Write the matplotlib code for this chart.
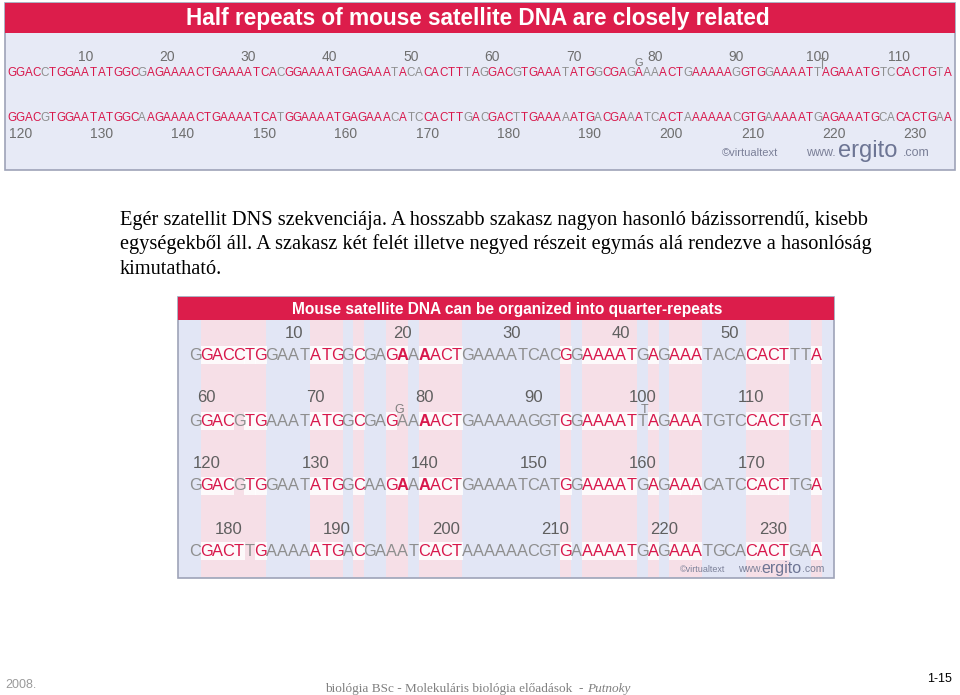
import matplotlib
matplotlib.use("Agg")
import matplotlib.pyplot as plt
from matplotlib.patches import Rectangle
from matplotlib import font_manager as fm

# ---------------- data ----------------
quarter_seqs = [
    "GGACCTGGAATATGGCGAGAAAACTGAAAATCACGGAAAATGAGAAATACACACTTTA",
    "GGACGTGAAATATGGCGAGAAAACTGAAAAAGGTGGAAAATTAGAAATGTCCACTGTA",
    "GGACGTGGAATATGGCAAGAAAACTGAAAATCATGGAAAATGAGAAACATCCACTTGA",
    "CGACTTGAAAAATGACGAAATCACTAAAAAACGTGAAAAATGAGAAATGCACACTGAA",
]
# r = red, R = bold red, g = gray (lower figure colouring)
quarter_masks = [
    "grrrrrrggggrrrgrggrRgRrrrgggggggggrgrrrrrgrgrrrggggrrrrggr",
    "grrrgrrggggrrrgrggrggRrrrgggggggggrgrrrrrgrgrrrggggrrrrggr",
    "grrrgrrggggrrrgrggrRgRrrrgggggggggrgrrrrrgrgrrrggggrrrrggr",
    "grrrrgrggggrrrgrgggggrrrrgggggggggrgrrrrrgrgrrrggggrrrrggr",
]
quarter_starts = [1, 59, 119, 177]
quarter_labels = [
    [10, 20, 30, 40, 50],
    [60, 70, 80, 90, 100, 110],
    [120, 130, 140, 150, 160, 170],
    [180, 190, 200, 210, 220, 230],
]
half_labels = [
    [10, 20, 30, 40, 50, 60, 70, 80, 90, 100, 110],
    [120, 130, 140, 150, 160, 170, 180, 190, 200, 210, 220, 230],
]
half_starts = [1, 119]
# substitution marks: (quarter row, character index, letter)
marks = [(1, 19, "G"), (1, 41.5, "T")]

title_top = "Half repeats of mouse satellite DNA are closely related"
title_low = "Mouse satellite DNA can be organized into quarter-repeats"
para_lines = [
    "Egér szatellit DNS szekvenciája. A hosszabb szakasz nagyon hasonló bázissorrendű, kisebb",
    "egységekből áll. A szakasz két felét illetve negyed részeit egymás alá rendezve a hasonlóság",
    "kimutatható.",
]
footer_left = "2008."
footer_mid = "biológia BSc - Molekuláris biológia előadások  - "
footer_mid_it = "Putnoky"
footer_right = "1-15"

# ---------------- style ----------------
RED = "#d8174b"
GRAY = "#8e8e8e"
BG = "#e7eaf6"
PINK = "#f6dfe7"
BLUE = "#e2e6f5"
HEAD = "#dc1d4b"
EDGE = "#9ea3b8"
SERIF = ["Liberation Serif", "DejaVu Serif"]

plt.rcParams["font.family"] = ["Liberation Sans", "DejaVu Sans"]


def has_font(name):
    try:
        fm.findfont(fm.FontProperties(family=name), fallback_to_default=False)
        return True
    except Exception:
        return False


NARROW = "Liberation Sans Narrow" if has_font("Liberation Sans Narrow") else None

fig = plt.figure(figsize=(9.6, 6.95), dpi=100)
ax = fig.add_axes([0, 0, 1, 1])
ax.set_xlim(0, 960)
ax.set_ylim(695, 0)
ax.axis("off")

# ================= top figure =================
ax.add_patch(Rectangle((5, 3), 950, 167, facecolor=BG, edgecolor=EDGE, lw=1.2, zorder=0))
ax.add_patch(Rectangle((5, 3), 950, 30, facecolor=HEAD, edgecolor="none", zorder=1))
ax.text(478, 19, title_top, color="white", fontsize=16.3, fontweight="bold",
        ha="center", va="center", zorder=2)

halves = [quarter_seqs[0] + quarter_seqs[1], quarter_seqs[2] + quarter_seqs[3]]
partner = [quarter_seqs[2] + quarter_seqs[3], quarter_seqs[0] + quarter_seqs[1]]
top_x0, top_x1 = 8, 952
seq_y_top = [73, 118]
lab_y_top = [57, 134]
if NARROW:
    top_font = dict(family=NARROW, fontsize=10)
else:
    top_font = dict(fontsize=8.4)
for h, seq in enumerate(halves):
    pitch = (top_x1 - top_x0) / len(seq)
    for i, ch in enumerate(seq):
        col = RED if ch == partner[h][i] else GRAY
        ax.text(top_x0 + (i + 0.5) * pitch, seq_y_top[h], ch, color=col,
                ha="center", va="center", zorder=3, **top_font)
    for n in half_labels[h]:
        idx = n - half_starts[h]
        ax.text(top_x0 + (idx + 0.5) * pitch, lab_y_top[h], str(n), color="#6e6e6e",
                fontsize=10, ha="center", va="center", zorder=3)
# marks in top figure: a small G above and a thin insertion tick
pitch0 = (top_x1 - top_x0) / len(halves[0])
for row, idx, letter in marks:
    pos = idx + len(quarter_seqs[0])
    xm = top_x0 + (pos + 0.5) * pitch0
    if letter == "G":
        ax.text(xm, 62.5, letter, color="#777777", fontsize=8,
                ha="center", va="center", zorder=3)
    else:
        ax.plot([xm, xm], [58, 68], color="#888888", lw=0.8, zorder=3)
        ax.plot([xm - 2.5, xm + 2.5], [58, 58], color="#888888", lw=0.8, zorder=3)

# watermark top
ax.text(722, 156, "©virtualtext", color="#7b8098", fontsize=8, ha="left", va="baseline")
ax.text(806, 156, "www.", color="#7b8098", fontsize=9, ha="left", va="baseline")
ax.text(838, 157, "ergito", color="#6d7594", fontsize=17, ha="left", va="baseline")
ax.text(903, 156, ".com", color="#7b8098", fontsize=9, ha="left", va="baseline")

# ================= paragraph =================
for k, line in enumerate(para_lines):
    ax.text(120, 225 + 24.5 * k, line, family=SERIF,
            fontsize=14.7, color="black", ha="left", va="baseline")

# ================= lower figure =================
L_x0, L_x1 = 178, 834
ax.add_patch(Rectangle((L_x0, 297), L_x1 - L_x0, 281, facecolor=BLUE, edgecolor=EDGE,
                       lw=1.2, zorder=0))
seq_x0, seq_x1 = 190, 822
nchar = len(quarter_seqs[0])
pitch = (seq_x1 - seq_x0) / nchar
# column bands
for i in range(nchar):
    reds = sum(1 for m in quarter_masks if m[i] in "rR")
    colr = PINK if reds >= 2 else BLUE
    ax.add_patch(Rectangle((seq_x0 + i * pitch, 320), pitch + 0.3, 257, facecolor=colr,
                           edgecolor="none", zorder=0.5))
ax.add_patch(Rectangle((L_x0, 297), L_x1 - L_x0, 23, facecolor=HEAD, edgecolor="none", zorder=1))
ax.text(507, 309.5, title_low, color="white", fontsize=11.2, fontweight="bold",
        ha="center", va="center", zorder=2)

seq_y_low = [355, 421, 486, 551]
lab_y_low = [333, 398, 463, 529]
if NARROW:
    low_font = dict(family=NARROW, fontsize=14)
else:
    low_font = dict(fontsize=11.8)
for r, seq in enumerate(quarter_seqs):
    mask = quarter_masks[r]
    for i, ch in enumerate(seq):
        m = mask[i]
        xc = seq_x0 + (i + 0.5) * pitch
        if m in "rR":
            ax.add_patch(Rectangle((seq_x0 + i * pitch, seq_y_low[r] - 9), pitch + 0.3, 18,
                                   facecolor="white", edgecolor="none", alpha=0.85, zorder=1))
        ax.text(xc, seq_y_low[r], ch, color=(GRAY if m == "g" else RED),
                fontweight=("bold" if m == "R" else "normal"),
                ha="center", va="center", zorder=3, **low_font)
    for n in quarter_labels[r]:
        idx = n - quarter_starts[r]
        ax.text(seq_x0 + (idx + 0.5) * pitch, lab_y_low[r], str(n), color="#5f5f5f",
                fontsize=12, ha="center", va="center", zorder=3)
for row, idx, letter in marks:
    ax.text(seq_x0 + (idx + 0.5) * pitch - 3, seq_y_low[row] - 11, letter, color="#808080",
            fontsize=9, ha="center", va="center", zorder=3)

# watermark lower
ax.text(680, 572, "©virtualtext", color="#7b8098", fontsize=6.5, ha="left", va="baseline", zorder=3)
ax.text(738, 572, "www.", color="#7b8098", fontsize=7.5, ha="left", va="baseline", zorder=3)
ax.text(761, 573, "ergito", color="#6d7594", fontsize=11.5, ha="left", va="baseline", zorder=3)
ax.text(802, 572, ".com", color="#7b8098", fontsize=7.5, ha="left", va="baseline", zorder=3)

# ================= footer =================
ax.text(5, 688, footer_left, color="#9a9a9a", fontsize=9, ha="left", va="baseline")
t1 = ax.text(325, 692, footer_mid, color="#808080", fontsize=9.5,
             family=SERIF, ha="left", va="baseline")
fig.canvas.draw()
bb = t1.get_window_extent(renderer=fig.canvas.get_renderer())
x_end = ax.transData.inverted().transform((bb.x1, bb.y0))[0]
ax.text(x_end, 692, footer_mid_it, color="#808080", fontsize=9.5, style="italic",
        family=SERIF, ha="left", va="baseline")
ax.text(952, 682, footer_right, color="black", fontsize=9, ha="right", va="baseline")

fig.savefig("out.png", dpi=100)
